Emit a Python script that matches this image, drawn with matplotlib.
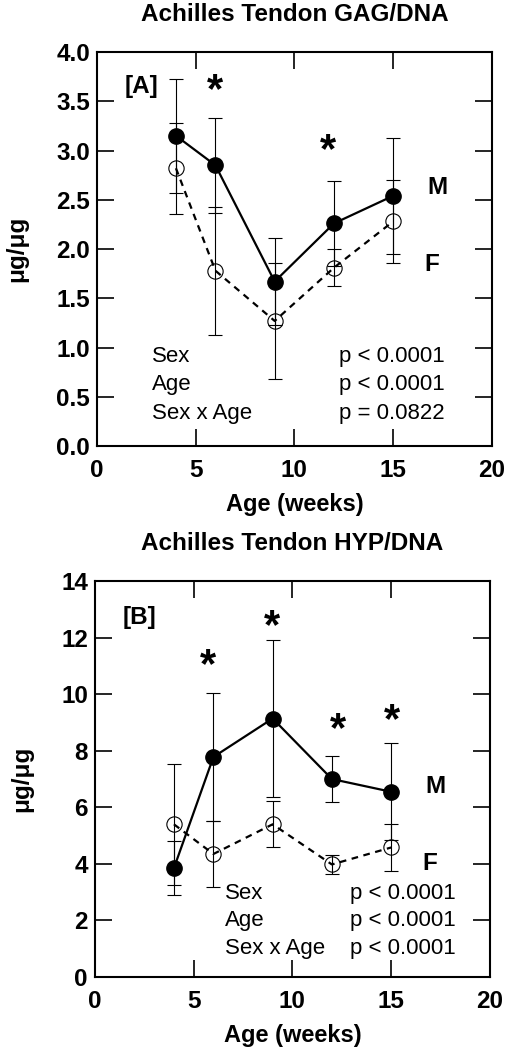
import matplotlib
matplotlib.use("Agg")
import matplotlib.pyplot as plt
import matplotlib.transforms as mtransforms

plt.rcParams['font.family'] = ['Liberation Sans', 'DejaVu Sans']

age = [4, 6, 9, 12, 15]

# panel A: GAG/DNA
gag_m = [3.15, 2.85, 1.67, 2.26, 2.54]
gag_m_err = [0.58, 0.48, 0.44, 0.43, 0.59]
gag_f = [2.82, 1.78, 1.27, 1.81, 2.28]
gag_f_err = [0.46, 0.65, 0.59, 0.19, 0.42]
gag_star_x = [6.0, 11.7]
gag_star_y = [3.70, 3.09]
gag_stats = [("Sex", "p < 0.0001"), ("Age", "p < 0.0001"), ("Sex x Age", "p = 0.0822")]

# panel B: HYP/DNA
hyp_m = [3.85, 7.78, 9.14, 7.00, 6.55]
hyp_m_err = [0.95, 2.27, 2.77, 0.82, 1.71]
hyp_f = [5.40, 4.35, 5.40, 3.98, 4.58]
hyp_f_err = [2.13, 1.18, 0.82, 0.33, 0.82]
hyp_star_x = [5.75, 8.95, 12.3, 15.05]
hyp_star_y = [11.3, 12.7, 9.05, 9.35]
hyp_stats = [("Sex", "p < 0.0001"), ("Age", "p < 0.0001"), ("Sex x Age", "p < 0.0001")]

BIG = 17.5
SMALL = 16

fig = plt.figure(figsize=(5.05, 10.49), dpi=100)
ax1 = fig.add_axes([0.192, 0.5748, 0.782, 0.3756])
ax2 = fig.add_axes([0.188, 0.0686, 0.782, 0.3775])


def panel(ax, m, m_err, f, f_err, ylim, yticks, yfmt, title, tag, tag_y,
          star_x, star_y, m_y, f_y, stats, stats_x, p_x, stats_y, dy):
    ax.errorbar(age, f, yerr=f_err, fmt='none', ecolor='black', elinewidth=0.8,
                capsize=5, capthick=0.8, zorder=3)
    ax.errorbar(age, m, yerr=m_err, fmt='none', ecolor='black', elinewidth=0.8,
                capsize=5, capthick=0.8, zorder=3)
    ax.plot(age, f, color='black', lw=1.6, ls=(0, (3, 2.5)), marker='o', ms=11,
            mfc='none', mec='black', mew=0.8, zorder=2)
    ax.plot(age, m, color='black', lw=1.6, marker='o', ms=11, mfc='black',
            mec='black', zorder=4)
    ax.set_xlim(0, 20)
    ax.set_ylim(*ylim)
    ax.set_xticks([0, 5, 10, 15, 20])
    ax.set_yticks(yticks)
    ax.set_yticklabels([yfmt.format(v) for v in yticks])
    for lab in ax.get_xticklabels() + ax.get_yticklabels():
        lab.set_fontweight('bold')
    ax.tick_params(direction='in', length=12, width=1.2, top=True, right=True,
                   labelsize=BIG)
    ax.tick_params(axis='x', pad=9)
    ax.tick_params(axis='y', pad=5)
    for s in ax.spines.values():
        s.set_linewidth(1.5)
    ax.set_xlabel('Age (weeks)', fontsize=17, fontweight='bold', labelpad=8)
    ax.set_ylabel('\u03bcg/\u03bcg', fontsize=BIG, fontweight='bold', labelpad=20)
    ax.set_title(title, fontsize=BIG, fontweight='bold', pad=22)
    ax.text(1.4, tag_y, tag, fontsize=BIG, fontweight='bold', va='center')
    star_tr = mtransforms.offset_copy(ax.transData, fig=fig, x=0, y=-9, units='dots')
    for sx, sy in zip(star_x, star_y):
        ax.text(sx, sy, '*', fontsize=30, fontweight='bold', ha='center',
                va='center', transform=star_tr)
    ax.text(16.75, m_y, 'M', fontsize=BIG, fontweight='bold', va='center')
    ax.text(16.6, f_y, 'F', fontsize=BIG, fontweight='bold', va='center')
    for i, (name, p) in enumerate(stats):
        ax.text(stats_x, stats_y - i * dy, name, fontsize=SMALL, va='center')
        ax.text(p_x, stats_y - i * dy, p, fontsize=SMALL, va='center')


panel(ax1, gag_m, gag_m_err, gag_f, gag_f_err, (0, 4), [0, 0.5, 1, 1.5, 2, 2.5, 3, 3.5, 4],
      '{:.1f}', 'Achilles Tendon GAG/DNA', '[A]', 3.65, gag_star_x, gag_star_y,
      2.62, 1.84, gag_stats, 2.78, 12.25, 0.91, 0.29)
panel(ax2, hyp_m, hyp_m_err, hyp_f, hyp_f_err, (0, 14), [0, 2, 4, 6, 8, 10, 12, 14],
      '{:d}', 'Achilles Tendon HYP/DNA', '[B]', 12.7, hyp_star_x, hyp_star_y,
      6.75, 4.02, hyp_stats, 6.57, 12.9, 2.96, 0.975)

fig.savefig('out.png', dpi=100)
